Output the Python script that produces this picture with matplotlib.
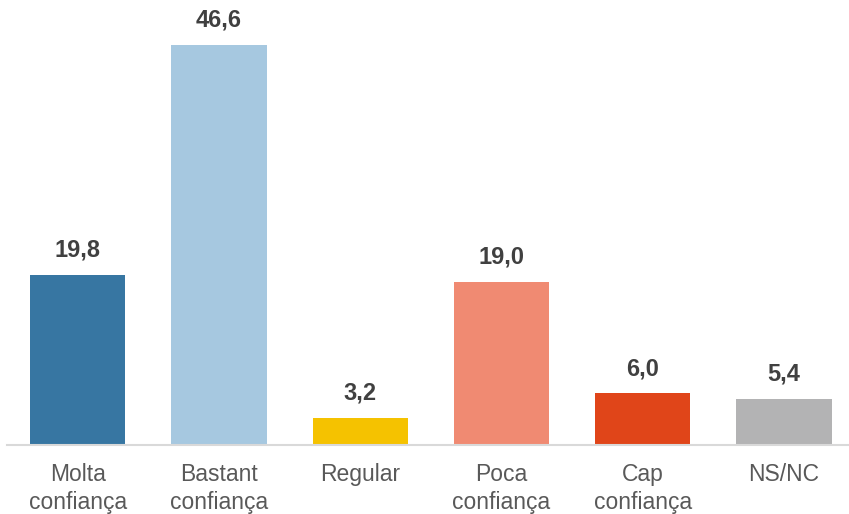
import matplotlib.pyplot as plt

plt.rcParams["font.family"] = ["Liberation Sans", "DejaVu Sans"]

# Data
categories = ["Molta\nconfiança", "Bastant\nconfiança", "Regular",
              "Poca\nconfiança", "Cap\nconfiança", "NS/NC"]
values = [19.8, 46.6, 3.2, 19.0, 6.0, 5.4]
colors = ["#3776a2", "#a6c8e0", "#f5c200", "#f08a72", "#e04519", "#b3b3b4"]

fig = plt.figure(figsize=(8.49, 5.14), dpi=100)
ax = fig.add_axes([7 / 849, 69 / 514, 842 / 849, 445 / 514])

x = range(len(categories))
bars = ax.bar(x, values, width=0.674, color=colors, zorder=2)

ax.set_xlim(-0.5, 5.46)
ax.set_ylim(0, 51.8)

# value labels above bars, comma as decimal separator
for b, v in zip(bars, values):
    ax.annotate(
        f"{v:.1f}".replace(".", ","),
        (b.get_x() + b.get_width() / 2, v),
        xytext=(0, 13),
        textcoords="offset points",
        ha="center",
        va="baseline",
        fontsize=17,
        fontweight="bold",
        color="#404040",
    )

ax.set_xticks(list(x))
ax.set_xticklabels(categories, fontsize=16.5, color="#595959",
                   linespacing=1.25)
ax.tick_params(axis="x", length=0, pad=13)
ax.set_yticks([])

for side in ["top", "right", "left"]:
    ax.spines[side].set_visible(False)
ax.spines["bottom"].set_color("#d9d9d9")
ax.spines["bottom"].set_linewidth(1.5)

fig.savefig("out.png", dpi=100)
